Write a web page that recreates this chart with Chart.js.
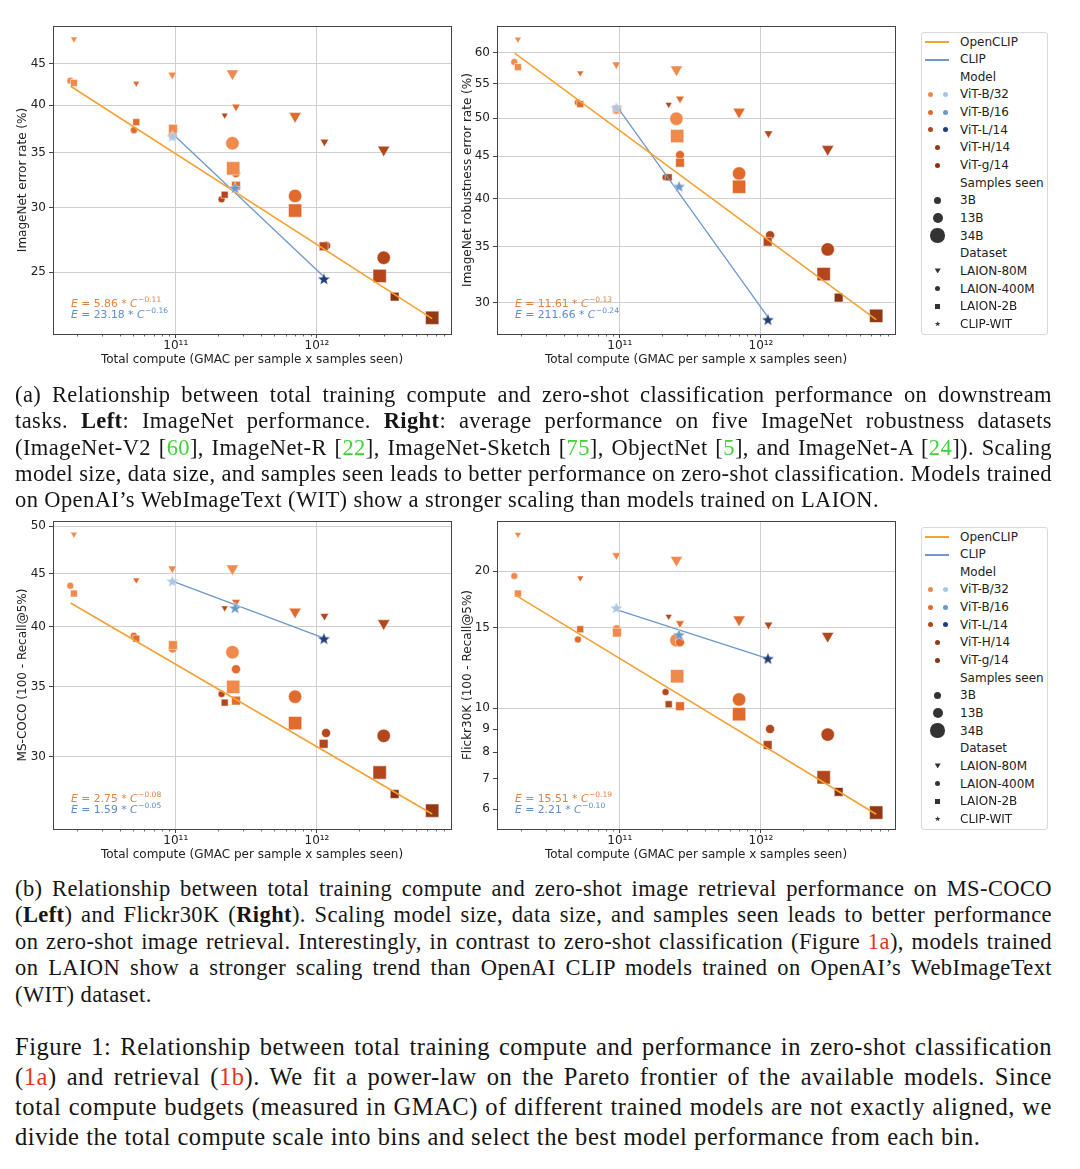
<!DOCTYPE html>
<html>
<head>
<meta charset="utf-8">
<title>OpenCLIP scaling</title>
<script src="https://cdn.jsdelivr.net/npm/chart.js@4.4.1/dist/chart.umd.min.js"></script>
<style>
  body { margin: 0; background: #fff; }
  #page { position: relative; width: 1080px; height: 1169px; overflow: hidden; background: #fff; }
  canvas.panel { position: absolute; }
  .legend { position: absolute; left: 921px; width: 127px; height: 303px; border: 1px solid #d9d9d9; border-radius: 3px; box-sizing: border-box; font-family: 'DejaVu Sans', sans-serif; font-size: 12px; color: #222; }
  .legend .lt { position: absolute; left: 38px; height: 16px; line-height: 16px; white-space: nowrap; }
  .legend .mk { position: absolute; }
  .cap { position: absolute; left: 15px; width: 1037px; font-family: 'Liberation Serif', 'Times New Roman', serif; color: #151515; }
  .cap > div { white-space: nowrap; }
  .cap .j { display: inline-block; }
  .g { color: #3fd23a; }
  .r { color: #e5331f; }
</style>
</head>
<body>
<div id="page">
  <canvas id="c1" class="panel" width="475" height="375" style="left:0;top:0"></canvas>
  <canvas id="c2" class="panel" width="475" height="375" style="left:440px;top:0"></canvas>
  <canvas id="c3" class="panel" width="475" height="375" style="left:0;top:495px"></canvas>
  <canvas id="c4" class="panel" width="475" height="375" style="left:440px;top:495px"></canvas>

  <div class="cap" style="top:382px;font-size:22.5px;line-height:26.3px;letter-spacing:0.4px">
    <div><span class="j">(a) Relationship between total training compute and zero-shot classification performance on downstream</span></div>
    <div><span class="j">tasks. <b>Left</b>: ImageNet performance. <b>Right</b>: average performance on five ImageNet robustness datasets</span></div>
    <div><span class="j">(ImageNet-V2 [<span class="g">60</span>], ImageNet-R [<span class="g">22</span>], ImageNet-Sketch [<span class="g">75</span>], ObjectNet [<span class="g">5</span>], and ImageNet-A [<span class="g">24</span>]). Scaling</span></div>
    <div><span class="j">model size, data size, and samples seen leads to better performance on zero-shot classification. Models trained</span></div>
    <div><span>on OpenAI’s WebImageText (WIT) show a stronger scaling than models trained on LAION.</span></div>
  </div>

  <div class="cap" style="top:876px;font-size:22.5px;line-height:26.4px;letter-spacing:0.4px">
    <div><span class="j">(b) Relationship between total training compute and zero-shot image retrieval performance on MS-COCO</span></div>
    <div><span class="j">(<b>Left</b>) and Flickr30K (<b>Right</b>). Scaling model size, data size, and samples seen leads to better performance</span></div>
    <div><span class="j">on zero-shot image retrieval. Interestingly, in contrast to zero-shot classification (Figure <span class="r">1a</span>), models trained</span></div>
    <div><span class="j">on LAION show a stronger scaling trend than OpenAI CLIP models trained on OpenAI’s WebImageText</span></div>
    <div><span>(WIT) dataset.</span></div>
  </div>

  <div class="cap" style="top:1032px;font-size:24.5px;line-height:30px;letter-spacing:0.55px">
    <div><span class="j">Figure 1: Relationship between total training compute and performance in zero-shot classification</span></div>
    <div><span class="j">(<span class="r">1a</span>) and retrieval (<span class="r">1b</span>). We fit a power-law on the Pareto frontier of the available models. Since</span></div>
    <div><span class="j">total compute budgets (measured in GMAC) of different trained models are not exactly aligned, we</span></div>
    <div><span>divide the total compute scale into bins and select the best model performance from each bin.</span></div>
  </div>
</div>

<script>
// ---- OpenCLIP runs (one entry per trained model) ----
const runModel = ['ViT-B/32','ViT-B/32','ViT-B/32','ViT-B/16','ViT-B/16','ViT-B/16','ViT-B/32','ViT-B/32','ViT-B/32',
  'ViT-L/14','ViT-L/14','ViT-L/14','ViT-B/32','ViT-B/32','ViT-B/32','ViT-B/16','ViT-B/16','ViT-B/16',
  'ViT-B/16','ViT-B/16','ViT-B/16','ViT-L/14','ViT-L/14','ViT-L/14','ViT-L/14','ViT-L/14','ViT-L/14','ViT-g/14','ViT-H/14'];
const runDataset = ['LAION-80M','LAION-400M','LAION-2B','LAION-80M','LAION-400M','LAION-2B','LAION-80M','LAION-400M','LAION-2B',
  'LAION-80M','LAION-400M','LAION-2B','LAION-80M','LAION-400M','LAION-2B','LAION-80M','LAION-400M','LAION-2B',
  'LAION-80M','LAION-400M','LAION-2B','LAION-80M','LAION-400M','LAION-2B','LAION-80M','LAION-400M','LAION-2B','LAION-2B','LAION-2B'];
const runSamples = ['3B','3B','3B','3B','3B','3B','13B','13B','13B','3B','3B','3B','34B','34B','34B','13B','13B','13B',
  '34B','34B','34B','13B','13B','13B','34B','34B','34B','13B','34B'];
const runCompute = [1.90e10, 1.79e10, 1.90e10, 5.25e10, 5.05e10, 5.25e10, 9.45e10, 9.5e10, 9.55e10,
  2.22e11, 2.11e11, 2.22e11, 2.52e11, 2.52e11, 2.55e11, 2.67e11, 2.67e11, 2.67e11,
  7.0e11, 7.0e11, 7.0e11, 1.13e12, 1.16e12, 1.115e12, 2.97e12, 2.97e12, 2.78e12, 3.55e12, 6.55e12];

const imagenetErr = [48.2, 42.85, 42.6, 42.55, 37.3, 38.15, 43.6, 36.8, 37.45, 38.9, 30.7, 31.1, 43.75, 35.95, 33.5,
  39.85, 33.05, 31.9, 38.8, 31.0, 29.75, 36.1, 26.95, 26.9, 35.3, 26.05, 24.75, 23.35, 22.0];
const robustErr = [62.25, 58.45, 57.65, 56.7, 52.25, 52.0, 58.05, 51.15, 51.25, 51.95, 42.45, 42.45, 57.25, 49.95, 47.6,
  52.8, 45.15, 44.2, 50.9, 42.9, 41.35, 47.95, 36.15, 35.5, 45.9, 34.75, 32.45, 30.4, 28.9];
const cocoErr = [49.1, 43.8, 43.05, 44.35, 39.2, 38.95, 45.5, 38.1, 38.4, 41.7, 34.45, 33.8, 45.5, 37.8, 35.0,
  42.25, 36.4, 33.95, 41.35, 34.25, 32.3, 40.95, 31.6, 30.85, 40.3, 31.4, 28.95, 27.6, 26.6];
const flickrErr = [24.05, 19.5, 17.85, 19.3, 14.15, 14.9, 21.65, 14.9, 14.65, 15.9, 10.85, 10.2, 21.15, 14.1, 11.75,
  15.35, 13.95, 10.1, 15.65, 10.45, 9.7, 15.25, 9.0, 8.3, 14.4, 8.75, 7.05, 6.55, 5.9];

// ---- OpenAI CLIP (WIT) models ----
const clipModel = ['ViT-B/32', 'ViT-B/16', 'ViT-L/14'];
const clipCompute = [9.45e10, 2.63e11, 1.12e12];
const clipImagenet = [36.65, 31.7, 24.55];
const clipRobust = [51.5, 41.4, 28.6];
const clipCoco = [44.25, 41.7, 38.95];
const clipFlickr = [16.6, 14.5, 12.85];

// ---- power-law fits (end points) ----
const openFitCompute = [1.8e10, 6.55e12];
const openFitImagenet = [42.2, 21.95];
const openFitRobust = [59.9, 28.6];
const openFitCoco = [42.15, 26.4];
const openFitFlickr = [17.75, 5.85];
const clipFitCompute = [9.45e10, 1.12e12];
const clipFitImagenet = [36.95, 24.7];
const clipFitRobust = [51.8, 28.8];
const clipFitCoco = [44.25, 39.0];
const clipFitFlickr = [16.45, 12.85];

// ---- axis ticks ----
const xTickValues = [1e11, 1e12];
const xTickLabels = ['10¹¹', '10¹²'];
const imagenetTicks = [25, 30, 35, 40, 45];
const robustTicks = [30, 35, 40, 45, 50, 55, 60];
const cocoTicks = [30, 35, 40, 45, 50];
const flickrTicks = [6, 7, 8, 9, 10, 15, 20];
const flickrGridTicks = [10, 15, 20];

// colours
const MODEL_COLOR = { 'ViT-B/32': '#ef8a4c', 'ViT-B/16': '#e06b2d', 'ViT-L/14': '#b4461c', 'ViT-H/14': '#953914', 'ViT-g/14': '#8a3312' };
const CLIP_COLOR = { 'ViT-B/32': '#a9c6e5', 'ViT-B/16': '#6b98cb', 'ViT-L/14': '#1f3d78' };
const OPEN_LINE = '#f5a133';
const CLIP_LINE = '#6d98c9';
const FONT_SIZE = 12;

// marker radius by Chart.js point style and samples seen
const SIZE = {
  circle:   { '3B': 3.5, '13B': 4.5, '34B': 6.7 },
  rect:     { '3B': 4.9, '13B': 6.2, '34B': 9.4 },
  triangle: { '3B': 4.0, '13B': 5.0, '34B': 7.1 }
};

Chart.defaults.font.family = "'DejaVu Sans', sans-serif";

// Filled five-point star drawn once per colour (Chart.js 'star' is only a cross)
function starImage(color, r) {
  const c = document.createElement('canvas');
  const s = Math.ceil(r * 2 + 2);
  c.width = s; c.height = s;
  const g = c.getContext('2d');
  g.beginPath();
  for (let i = 0; i < 10; i++) {
    const rad = i % 2 ? r * 0.42 : r;
    const a = -Math.PI / 2 + i * Math.PI / 5;
    g.lineTo(s / 2 + rad * Math.cos(a), s / 2 + rad * Math.sin(a) + r * 0.08);
  }
  g.closePath();
  g.fillStyle = color; g.fill();
  g.strokeStyle = 'rgba(255,255,255,0.7)'; g.lineWidth = 0.6; g.stroke();
  return c;
}
const STAR = {};
clipModel.forEach(m => { STAR[m] = starImage(CLIP_COLOR[m], 6.6); });

// E = a * C^b label, mathtext-like
function drawEq(ctx, x, y, parts, color) {
  const size = 10.8;
  ctx.fillStyle = color;
  ctx.textBaseline = 'middle';
  ctx.textAlign = 'left';
  ctx.font = `italic ${size}px 'DejaVu Sans'`;
  ctx.fillText('E', x, y); x += ctx.measureText('E').width;
  const mid = ' = ' + parts[0] + ' * ';
  ctx.font = `${size}px 'DejaVu Sans'`;
  ctx.fillText(mid, x, y); x += ctx.measureText(mid).width;
  ctx.font = `italic ${size}px 'DejaVu Sans'`;
  ctx.fillText('C', x, y); x += ctx.measureText('C').width + 0.5;
  ctx.font = `${size * 0.7}px 'DejaVu Sans'`;
  ctx.fillText(parts[1], x, y - 4);
}

// frame on all four sides, minor log ticks, fit equations
const framePlugin = {
  id: 'frame',
  afterDraw(chart, args, opts) {
    const { ctx, chartArea: a, scales } = chart;
    ctx.save();
    ctx.strokeStyle = '#444';
    ctx.lineWidth = 0.8;
    for (let d = 1e10; d < 1e13; d *= 10) {
      for (let m = 2; m <= 9; m++) {
        const v = d * m;
        if (v < scales.x.min || v > scales.x.max) continue;
        const px = Math.round(scales.x.getPixelForValue(v)) + 0.5;
        ctx.beginPath(); ctx.moveTo(px, a.bottom); ctx.lineTo(px, a.bottom + 2.5); ctx.stroke();
      }
    }
    ctx.lineWidth = 1;
    ctx.strokeRect(Math.round(a.left) + 0.5, Math.round(a.top) + 0.5,
      Math.round(a.right - a.left), Math.round(a.bottom - a.top));
    drawEq(ctx, a.left + 18, a.bottom - 30, opts.open, '#e6803f');
    drawEq(ctx, a.left + 18, a.bottom - 18.5, opts.clip, '#5b8dc6');
    ctx.restore();
  }
};

function makePanel(id, cfg) {
  // squares on top of circles on top of triangles (lower order is drawn last)
  const groups = [['LAION-2B', 'rect', 3], ['LAION-400M', 'circle', 4], ['LAION-80M', 'triangle', 5]];
  const datasets = groups.map(([name, shape, order]) => {
    const idx = runDataset.map((d, i) => d === name ? i : -1).filter(i => i >= 0);
    return {
      label: name,
      order,
      data: idx.map(i => ({ x: runCompute[i], y: cfg.values[i] })),
      pointStyle: shape,
      pointRotation: shape === 'triangle' ? 180 : 0,
      pointRadius: idx.map(i => SIZE[shape][runSamples[i]]),
      pointBackgroundColor: idx.map(i => MODEL_COLOR[runModel[i]]),
      pointBorderColor: 'rgba(255,255,255,0.75)',
      pointBorderWidth: 0.7,
      showLine: false
    };
  });
  datasets.push({
    label: 'CLIP-WIT', order: 0,
    data: clipCompute.map((x, i) => ({ x, y: cfg.clip[i] })),
    pointStyle: clipModel.map(m => STAR[m]),
    pointRadius: 6,
    showLine: false
  });
  datasets.push({
    label: 'OpenCLIP', order: 1,
    data: openFitCompute.map((x, i) => ({ x, y: cfg.openFit[i] })),
    showLine: true, borderColor: OPEN_LINE, borderWidth: 1.6, pointRadius: 0
  });
  datasets.push({
    label: 'CLIP', order: 2,
    data: clipFitCompute.map((x, i) => ({ x, y: cfg.clipFit[i] })),
    showLine: true, borderColor: CLIP_LINE, borderWidth: 1.3, pointRadius: 0
  });

  const gridTicks = cfg.gridTicks || cfg.yTicks;

  return new Chart(document.getElementById(id), {
    type: 'scatter',
    data: { datasets },
    plugins: [framePlugin],
    options: {
      responsive: false,
      animation: false,
      events: [],
      layout: { padding: { left: 0, top: 26, right: cfg.padRight, bottom: 5 } },
      plugins: {
        legend: { display: false },
        tooltip: { enabled: false },
        frame: { open: cfg.eqOpen, clip: cfg.eqClip }
      },
      scales: {
        x: {
          type: 'logarithmic',
          min: 1.35e10, max: 8.9e12,
          bounds: 'data',
          afterBuildTicks: s => { s.ticks = xTickValues.map(v => ({ value: v })); },
          afterFit: s => { s.height = 36; },
          ticks: {
            autoSkip: false, maxRotation: 0, padding: 1, color: '#222', font: { size: FONT_SIZE },
            callback: (v, i) => xTickLabels[i]
          },
          grid: { color: '#cfcfcf', lineWidth: 1, tickLength: 4, tickColor: '#444' },
          border: { display: false },
          title: {
            display: true, text: 'Total compute (GMAC per sample x samples seen)',
            color: '#222', font: { size: FONT_SIZE }, padding: { top: 0, bottom: 2.8 }
          }
        },
        y: {
          type: 'logarithmic',
          min: cfg.yMin, max: cfg.yMax,
          bounds: 'data',
          afterBuildTicks: s => { s.ticks = cfg.yTicks.map(v => ({ value: v })); },
          afterFit: s => { s.width = cfg.yWidth; },
          ticks: {
            autoSkip: false, padding: 3, color: '#222', font: { size: FONT_SIZE },
            callback: v => String(v)
          },
          grid: {
            color: c => gridTicks.includes(c.tick && c.tick.value) ? '#cfcfcf' : 'rgba(0,0,0,0)',
            lineWidth: 1, tickLength: 4, tickColor: '#444'
          },
          border: { display: false },
          title: {
            display: true, text: cfg.yTitle, color: '#222', font: { size: FONT_SIZE },
            padding: { top: cfg.yTitlePad, bottom: 0 }
          }
        }
      }
    }
  });
}

makePanel('c1', {
  values: imagenetErr, clip: clipImagenet, openFit: openFitImagenet, clipFit: clipFitImagenet,
  yMin: 21.02, yMax: 50.0, yTicks: imagenetTicks, yTitle: 'ImageNet error rate (%)',
  yWidth: 53, yTitlePad: 16.1, padRight: 24,
  eqOpen: ['5.86', '−0.11'], eqClip: ['23.18', '−0.16']
});
makePanel('c2', {
  values: robustErr, clip: clipRobust, openFit: openFitRobust, clipFit: clipFitRobust,
  yMin: 27.48, yMax: 64.6, yTicks: robustTicks, yTitle: 'ImageNet robustness error rate (%)',
  yWidth: 57, yTitlePad: 20.5, padRight: 20,
  eqOpen: ['11.61', '−0.13'], eqClip: ['211.66', '−0.24']
});
makePanel('c3', {
  values: cocoErr, clip: clipCoco, openFit: openFitCoco, clipFit: clipFitCoco,
  yMin: 25.54, yMax: 50.56, yTicks: cocoTicks, yTitle: 'MS-COCO (100 - Recall@5%)',
  yWidth: 53, yTitlePad: 16.1, padRight: 24,
  eqOpen: ['2.75', '−0.08'], eqClip: ['1.59', '−0.05']
});
makePanel('c4', {
  values: flickrErr, clip: clipFlickr, openFit: openFitFlickr, clipFit: clipFitFlickr,
  yMin: 5.43, yMax: 25.75, yTicks: flickrTicks, gridTicks: flickrGridTicks, yTitle: 'Flickr30K (100 - Recall@5%)',
  yWidth: 57, yTitlePad: 20.5, padRight: 20,
  eqOpen: ['15.51', '−0.19'], eqClip: ['2.21', '−0.10']
});

// ---- legends (same for both rows of plots) ----
const legendRows = [
  { text: 'OpenCLIP', line: OPEN_LINE },
  { text: 'CLIP', line: CLIP_LINE },
  { text: 'Model' },
  { text: 'ViT-B/32', dots: [MODEL_COLOR['ViT-B/32'], CLIP_COLOR['ViT-B/32']] },
  { text: 'ViT-B/16', dots: [MODEL_COLOR['ViT-B/16'], CLIP_COLOR['ViT-B/16']] },
  { text: 'ViT-L/14', dots: [MODEL_COLOR['ViT-L/14'], CLIP_COLOR['ViT-L/14']] },
  { text: 'ViT-H/14', dot: MODEL_COLOR['ViT-H/14'] },
  { text: 'ViT-g/14', dot: MODEL_COLOR['ViT-g/14'] },
  { text: 'Samples seen' },
  { text: '3B', size: 7 },
  { text: '13B', size: 10 },
  { text: '34B', size: 14.5 },
  { text: 'Dataset' },
  { text: 'LAION-80M', shape: 'tri' },
  { text: 'LAION-400M', shape: 'circle' },
  { text: 'LAION-2B', shape: 'square' },
  { text: 'CLIP-WIT', shape: 'star' }
];

function marker(box, cx, cy, w, h, color, shape) {
  const m = document.createElement('div');
  m.className = 'mk';
  m.style.left = (cx - w / 2) + 'px';
  m.style.top = (cy - h / 2) + 'px';
  m.style.width = w + 'px';
  m.style.height = h + 'px';
  m.style.background = color;
  if (shape === 'circle') m.style.borderRadius = '50%';
  if (shape === 'tri') m.style.clipPath = 'polygon(0 0,100% 0,50% 100%)';
  if (shape === 'star') m.style.clipPath = 'polygon(50% 0%,61% 35%,98% 35%,68% 57%,79% 91%,50% 70%,21% 91%,32% 57%,2% 35%,39% 35%)';
  box.appendChild(m);
}

function buildLegend(top) {
  const box = document.createElement('div');
  box.className = 'legend';
  box.style.top = top + 'px';
  legendRows.forEach((r, i) => {
    const cy = 9 + 17.65 * i;
    const t = document.createElement('div');
    t.className = 'lt';
    t.textContent = r.text;
    t.style.top = (cy - 8) + 'px';
    box.appendChild(t);
    if (r.line) marker(box, 15.4, Math.round(cy), 24, 2, r.line);
    if (r.dots) { marker(box, 8.7, cy, 5, 5, r.dots[0], 'circle'); marker(box, 23, cy, 5, 5, r.dots[1], 'circle'); }
    if (r.dot) marker(box, 15.7, cy, 5, 5, r.dot, 'circle');
    if (r.size) marker(box, 15.7, cy, r.size, r.size, '#333', 'circle');
    if (r.shape === 'tri') marker(box, 15.7, cy, 6, 5, '#333', 'tri');
    if (r.shape === 'circle') marker(box, 15.7, cy, 5, 5, '#333', 'circle');
    if (r.shape === 'square') marker(box, 15.7, cy, 4.6, 4.6, '#333', 'square');
    if (r.shape === 'star') marker(box, 15.7, cy, 6, 6, '#333', 'star');
  });
  document.getElementById('page').appendChild(box);
}
buildLegend(31.5);
buildLegend(526.5);

// stretch every full caption line to the text width
function justifyCaptions() {
  document.querySelectorAll('.cap .j').forEach(el => {
    el.style.wordSpacing = '0px';
    const natural = el.getBoundingClientRect().width;
    const gaps = (el.textContent.match(/ /g) || []).length;
    el.style.wordSpacing = ((1037 - natural) / gaps) + 'px';
  });
}
justifyCaptions();
if (document.fonts && document.fonts.ready) document.fonts.ready.then(justifyCaptions);
</script>
</body>
</html>
